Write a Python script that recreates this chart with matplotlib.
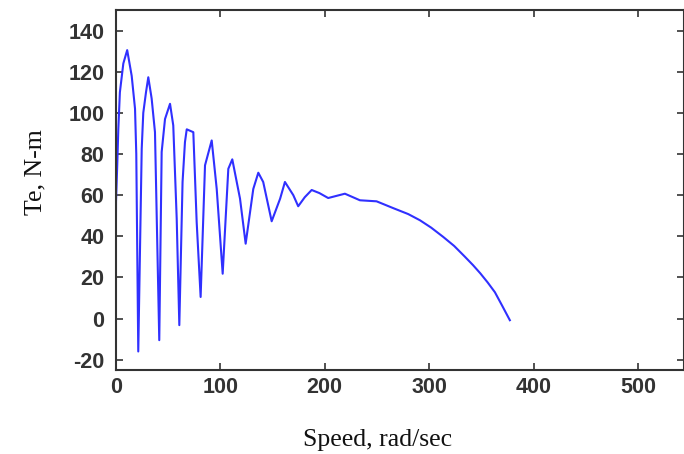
import numpy as np
import matplotlib
matplotlib.use("Agg")
import matplotlib.pyplot as plt

# speed (rad/sec) and electromagnetic torque (N-m)
speed = [0, 0.3, 1.5, 2.5, 4, 7.3, 11, 15.3, 18.5, 19.7, 21.6,
         24.9, 26.4, 29, 31.2, 34.4, 37.6, 41.7,
         44, 47.2, 52, 55.1, 58.4, 60.9,
         64, 66.3, 68, 74.3, 77.5, 81.3,
         85.5, 91.9, 96.7, 102.4,
         107.8, 111.6, 119, 124.4,
         131.7, 136.5, 141.2, 149.3,
         157.4, 162, 170, 174.7,
         181, 187.6, 195, 203.4, 211, 219.4, 233.8, 249.7, 265.6,
         280, 291.2, 302, 313.5, 324, 334, 342, 349, 356, 363, 370, 377.3]
torque = [0, 57, 75, 92, 110, 124, 130.5, 118, 102, 80, -16,
          82.5, 100, 110, 117.3, 107, 90.6, -10.5,
          81, 97, 104.4, 93.9, 48.5, -3.2,
          66.4, 85.8, 92, 90.6, 47, 10.5,
          74.5, 86.6, 63, 21.8,
          72.8, 77.4, 58.3, 36.4,
          63, 70.9, 66.4, 47.3,
          58.3, 66.4, 60, 54.6,
          59, 62.5, 61, 58.6, 59.6, 60.7, 57.5, 57, 53.7,
          50.8, 47.8, 44.2, 39.7, 35.3, 30.2, 26, 22, 17.6, 12.8, 6.2, -0.8]

xticks = [0, 100, 200, 300, 400, 500]
yticks = [-20, 0, 20, 40, 60, 80, 100, 120, 140]

fig = plt.figure(figsize=(6.84, 4.54), dpi=100)
ax = fig.add_axes([115.7 / 684, 1 - 370 / 454, (684 - 115.7) / 684, 360 / 454])

ax.plot(speed, torque, color='#3030ff', linewidth=1.5)

ax.set_xlim(0, 544)
ax.set_ylim(-25, 150)
ax.set_xticks(xticks)
ax.set_yticks(yticks)

tick_font = dict(family='Liberation Sans', weight='bold', size=15.5)
ax.set_xticklabels([str(t) for t in xticks], **tick_font, color='#333333')
ax.set_yticklabels([str(t) for t in yticks], **tick_font, color='#333333')
ax.tick_params(direction='in', top=True, right=True, length=5, width=1.2,
               color='#333333')
ax.tick_params(axis='y', pad=8)
ax.tick_params(axis='x', pad=5)
for s in ax.spines.values():
    s.set_linewidth(1.5)
    s.set_color('#333333')

label_font = dict(family='Liberation Serif', size=18.5, color='#111111')
ax.set_xlabel('Speed, rad/sec', **label_font)
ax.set_ylabel('Te, N-m', **label_font)
ax.xaxis.set_label_coords(0.4615, -0.165)
ax.yaxis.set_label_coords(-0.122, 0.55)

fig.savefig('out.png', dpi=100)
